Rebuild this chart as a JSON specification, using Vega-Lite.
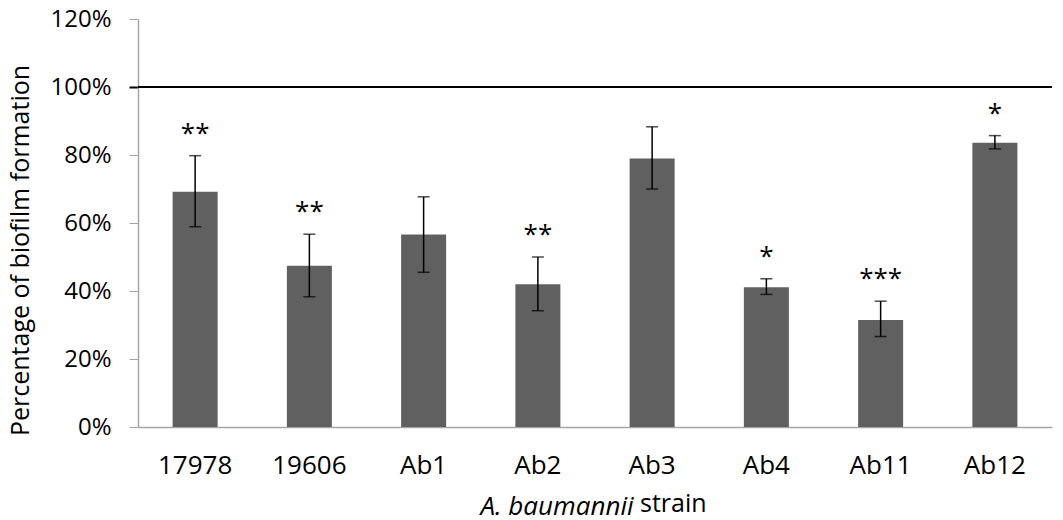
{
  "$schema": "https://vega.github.io/schema/vega-lite/v6.json",
  "description": "Percentage of biofilm formation per A. baumannii strain, with error bars and significance stars",
  "autosize": {"type": "none"},
  "width": 914,
  "height": 408,
  "padding": {"left": 138, "top": 19, "right": 11, "bottom": 93},
  "background": "white",
  "title": {
    "text": "strain",
    "orient": "bottom",
    "anchor": "start",
    "frame": "group",
    "dx": 502,
    "offset": -27,
    "fontSize": 25,
    "fontWeight": "normal",
    "color": "#000000",
    "font": "Open Sans"
  },
  "data": {
    "values": [
      {"strain": "17978", "pct": 0.692, "hi": 0.798, "lo": 0.589, "sig": "**"},
      {"strain": "19606", "pct": 0.474, "hi": 0.567, "lo": 0.383, "sig": "**"},
      {"strain": "Ab1", "pct": 0.566, "hi": 0.677, "lo": 0.455, "sig": ""},
      {"strain": "Ab2", "pct": 0.42, "hi": 0.5, "lo": 0.342, "sig": "**"},
      {"strain": "Ab3", "pct": 0.79, "hi": 0.883, "lo": 0.7, "sig": ""},
      {"strain": "Ab4", "pct": 0.411, "hi": 0.436, "lo": 0.39, "sig": "*"},
      {"strain": "Ab11", "pct": 0.315, "hi": 0.37, "lo": 0.266, "sig": "***"},
      {"strain": "Ab12", "pct": 0.836, "hi": 0.857, "lo": 0.818, "sig": "*"}
    ]
  },
  "encoding": {
    "x": {
      "field": "strain",
      "type": "nominal",
      "sort": null,
      "scale": {"paddingInner": 0.606, "paddingOuter": 0.303},
      "axis": {
        "title": "A. baumannii",
        "labelAngle": 0,
        "ticks": false,
        "tickSize": 0,
        "labelPadding": 25,
        "labelFontSize": 26,
        "titleFontSize": 26,
        "titleFontStyle": "italic",
        "titleAlign": "left",
        "titleX": 342,
        "titleY": 66,
        "titleBaseline": "top"
      }
    }
  },
  "layer": [
    {
      "mark": {"type": "bar", "color": "#606060"},
      "encoding": {
        "y": {
          "field": "pct",
          "type": "quantitative",
          "scale": {"domain": [0, 1.2], "nice": false},
          "axis": {
            "title": "Percentage of biofilm formation",
            "values": [0, 0.2, 0.4, 0.6, 0.8, 1, 1.2],
            "format": ".0%",
            "grid": false,
            "tickSize": 9,
            "labelPadding": 18,
            "labelFontSize": 24,
            "titleFontSize": 25,
            "titleX": -110,
            "titleY": 231,
            "titleBaseline": "alphabetic",
            "tickColor": {"condition": {"test": "datum.value === 1", "value": "#000000"}, "value": "#a6a6a6"},
            "tickWidth": {"condition": {"test": "datum.value === 1", "value": 2}, "value": 1}
          }
        }
      }
    },
    {
      "mark": {"type": "rule", "color": "#000000", "strokeWidth": 1.5},
      "encoding": {
        "y": {"field": "hi", "type": "quantitative"},
        "y2": {"field": "lo"}
      }
    },
    {
      "mark": {"type": "tick", "color": "#000000", "size": 12, "thickness": 1.5},
      "encoding": {"y": {"field": "hi", "type": "quantitative"}}
    },
    {
      "mark": {"type": "tick", "color": "#000000", "size": 12, "thickness": 1.5},
      "encoding": {"y": {"field": "lo", "type": "quantitative"}}
    },
    {
      "mark": {"type": "text", "fontSize": 26, "baseline": "middle", "dy": -22, "color": "#000000"},
      "encoding": {
        "y": {"field": "hi", "type": "quantitative"},
        "text": {"field": "sig"}
      }
    },
    {
      "data": {"values": [{"ref": 1}]},
      "mark": {"type": "rule", "color": "#000000", "strokeWidth": 2},
      "encoding": {"y": {"field": "ref", "type": "quantitative"}, "x": null}
    }
  ],
  "config": {
    "font": "Open Sans",
    "view": {"stroke": null},
    "axis": {
      "domainColor": "#a6a6a6",
      "domainWidth": 1.5,
      "labelColor": "#000000",
      "titleColor": "#000000",
      "titleFontWeight": "normal",
      "labelFont": "Open Sans",
      "titleFont": "Open Sans"
    }
  }
}
